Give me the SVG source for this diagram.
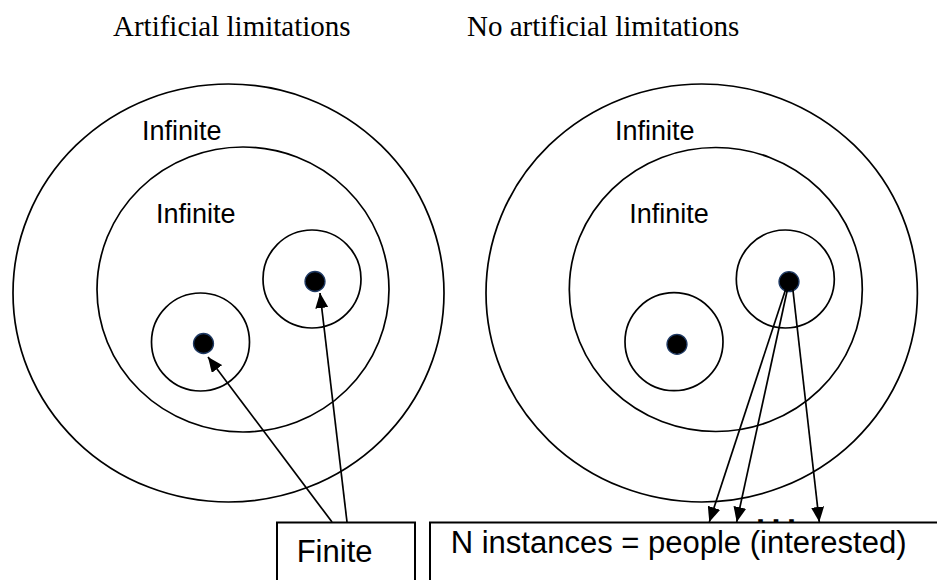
<svg xmlns="http://www.w3.org/2000/svg" width="937" height="580" viewBox="0 0 937 580">
<defs>
<style>
.ring{fill:none;stroke:#000;stroke-width:1.7}
.dot{fill:#000;stroke:#1f3a64;stroke-width:1.3}
.lbl{font-family:"Liberation Sans",Arial,sans-serif;fill:#000}
.title{font-family:"Liberation Serif","Times New Roman",serif;font-size:29px;fill:#000}
.box{fill:#fff;stroke:#000;stroke-width:2}
.arr{stroke:#000;stroke-width:1.7;fill:none;marker-end:url(#ah)}
</style>
<marker id="ah" viewBox="0 0 15 13" refX="15" refY="6.5" markerWidth="15" markerHeight="13" markerUnits="userSpaceOnUse" orient="auto">
<path d="M0,0 L15,6.5 L0,13 z" fill="#000"/>
</marker>
</defs>
<rect width="937" height="580" fill="#fff"/>
<text class="title" x="113" y="36">Artificial limitations</text>
<text class="title" x="467" y="36">No artificial limitations</text>

<g id="left-outer"><ellipse class="ring" cx="228.5" cy="293" rx="215.5" ry="209"/><text class="lbl" x="142" y="140" font-size="27">Infinite</text></g>
<g id="left-middle"><ellipse class="ring" cx="243" cy="289.5" rx="146" ry="142.5"/><text class="lbl" x="156" y="222.7" font-size="27">Infinite</text></g>
<g id="left-small-1"><circle class="ring" cx="200.5" cy="342" r="49"/><circle class="dot" cx="203.5" cy="343.5" r="10"/></g>
<g id="left-small-2"><circle class="ring" cx="312" cy="279" r="49"/><circle class="dot" cx="315" cy="281.5" r="10"/></g>

<g id="right-outer"><ellipse class="ring" cx="701.7" cy="293" rx="215.7" ry="209"/><text class="lbl" x="615" y="140" font-size="27">Infinite</text></g>
<g id="right-middle"><ellipse class="ring" cx="715.8" cy="289.5" rx="146.5" ry="142"/><text class="lbl" x="629.3" y="222.7" font-size="27">Infinite</text></g>
<g id="right-small-1"><circle class="ring" cx="674" cy="341.7" r="49"/><circle class="dot" cx="677" cy="344.3" r="10"/></g>
<g id="right-small-2"><circle class="ring" cx="785.3" cy="279" r="49"/><circle class="dot" cx="789" cy="281.7" r="10"/></g>

<g id="finite-box"><rect class="box" x="277" y="522.5" width="138" height="80"/><text class="lbl" x="296.7" y="561.7" font-size="31">Finite</text></g>
<g id="instances-box"><rect class="box" x="430" y="522.5" width="520" height="80"/><text class="lbl" x="450.7" y="553.3" font-size="31">N instances = people (interested)</text></g>

<g id="connectors">
<line class="arr" x1="791" y1="273" x2="709.3" y2="522"/>
<line class="arr" x1="791" y1="273" x2="736.7" y2="522"/>
<line class="arr" x1="791" y1="273" x2="819.3" y2="522"/>
<line class="arr" x1="332" y1="522" x2="208" y2="357"/>
<line class="arr" x1="347" y1="522" x2="320" y2="293"/>
<text class="lbl" transform="translate(756,521.5) scale(1.8,1)" x="0" y="0" font-size="18" font-weight="bold" letter-spacing="3.6">...</text>
</g>
</svg>
